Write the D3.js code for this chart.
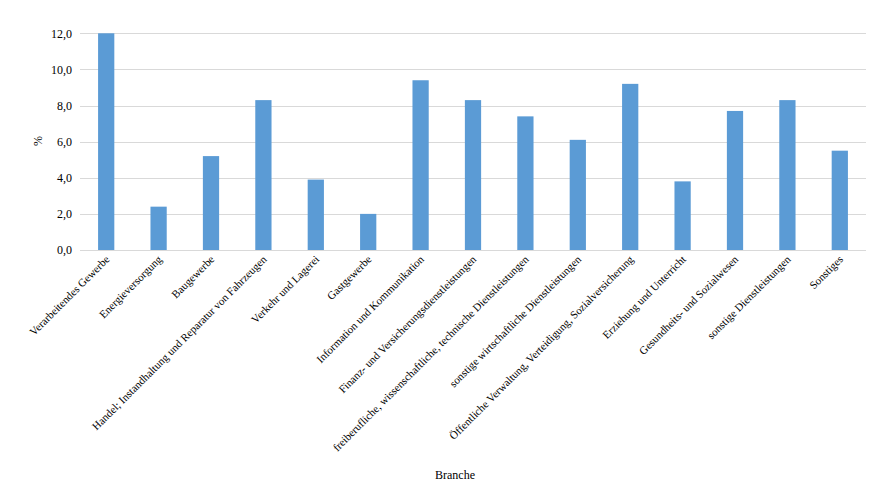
<!DOCTYPE html>
<html><head><meta charset="utf-8">
<script src="https://cdn.jsdelivr.net/npm/d3@7/dist/d3.min.js"></script>
<style>body{margin:0;background:#fff}svg{display:block}</style>
</head><body><svg id="c" width="888" height="500"></svg>
<script>
const categories = ["Verarbeitendes Gewerbe","Energieversorgung","Baugewerbe","Handel; Instandhaltung und Reparatur von Fahrzeugen","Verkehr und Lagerei","Gastgewerbe","Information und Kommunikation","Finanz- und Versicherungsdienstleistungen","freiberufliche, wissenschaftliche, technische Dienstleistungen","sonstige wirtschaftliche Dienstleistungen","Öffentliche Verwaltung, Verteidigung, Sozialversicherung","Erziehung und Unterricht","Gesundheits- und Sozialwesen","sonstige Dienstleistungen","Sonstiges"];
const values = [12.0,2.4,5.2,8.3,3.9,2.0,9.4,8.3,7.4,6.1,9.2,3.8,7.7,8.3,5.5];
const yTicks = [0,2,4,6,8,10,12];
const xTitle = "Branche", yTitle = "%";
const FONT = "'Liberation Serif', 'Times New Roman', Tinos, 'DejaVu Serif', serif";

const svg = d3.select("#c");
const L=80,R=866,T=33.3,B=250;
const x = d3.scaleBand().domain(categories).range([L,R]).paddingInner(0.69).paddingOuter(0.345);
const y = d3.scaleLinear().domain([0,12]).range([B,T]);
const fmt = d => d.toFixed(1).replace(".",",");

svg.append("g").selectAll("line").data(yTicks).join("line")
  .attr("x1",L).attr("x2",R).attr("y1",d=>Math.round(y(d))+0.5).attr("y2",d=>Math.round(y(d))+0.5)
  .attr("stroke","#d9d9d9").attr("stroke-width",1);

svg.append("g").selectAll("rect").data(values).join("rect")
  .attr("x",(d,i)=>x(categories[i])).attr("width",x.bandwidth())
  .attr("y",d=>y(d)).attr("height",d=>B-y(d)).attr("fill","#5b9bd5");

const ya = d3.axisLeft(y).tickValues(yTicks).tickFormat(fmt).tickSize(0).tickPadding(8);
const gy = svg.append("g").attr("transform",`translate(${L},0)`).call(ya);
gy.attr("font-family",FONT).attr("font-size",12);
gy.select(".domain").remove();
gy.selectAll("text").style("font-family",FONT).style("font-size","12px").attr("fill","#000");

const xa = d3.axisBottom(x).tickSize(0).tickPadding(0);
const gx = svg.append("g").attr("transform",`translate(0,${B})`).call(xa);
gx.attr("font-family",FONT).attr("font-size",11);
gx.select(".domain").remove();
gx.selectAll("text").style("font-family",FONT).style("font-size","11px").attr("fill","#000")
  .attr("text-anchor","end").attr("dy","0").attr("y",0)
  .attr("transform","translate(4,10) rotate(-45)");

svg.append("text").attr("x",455).attr("y",479).attr("text-anchor","middle").style("font-family",FONT).style("font-size","12px").text(xTitle);
svg.append("text").attr("transform","translate(42,141) rotate(-90)").attr("text-anchor","middle").style("font-family",FONT).style("font-size","12px").text(yTitle);
</script></body></html>
